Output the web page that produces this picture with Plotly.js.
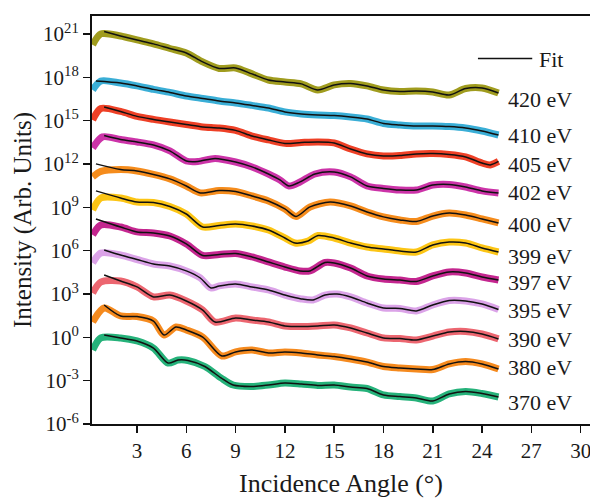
<!DOCTYPE html>
<html><head><meta charset="utf-8">
<script src="https://cdn.plot.ly/plotly-3.0.1.min.js"></script>
<style>html,body{margin:0;padding:0;background:#fff}</style>
</head><body><div id="chart" style="width:590px;height:498px"></div>
<script>
// Series labels (top to bottom)
const energies = ['420 eV','410 eV','405 eV','402 eV','400 eV','399 eV','397 eV','395 eV','390 eV','380 eV','370 eV'];

// Measured curves: incidence angle (deg) and log10 of intensity (arb. units)
const angle420 = [0.3,0.8,2,3,4,5,6,7,8,9,10,11,12,13,14,15,16,17,18,19,20,21,22,23,24,25];
const logI420  = [20.25,21.01,20.87,20.59,20.32,20.0,19.69,19.07,18.62,18.65,18.24,17.82,17.68,17.55,17.13,17.48,17.58,17.41,17.13,17.03,17.06,16.99,16.78,17.23,17.27,16.92];

const angle410 = [0.3,0.8,2,3,4,5,6,7,8,9,10,11,12,13,14,15,16,17,18,19,20,21,22,23,24,25];
const logI410  = [17.13,17.75,17.61,17.41,17.17,16.96,16.71,16.54,16.37,16.23,16.06,15.88,15.61,15.47,15.40,15.36,15.26,15.12,14.81,14.71,14.64,14.64,14.60,14.50,14.29,14.01];

const angle405 = [0.3,0.8,2,3,4,5,6,7,8,9,10,11,12,13,14,15,16,17,18,19,20,21,22,23,24,24.5,25];
const logI405  = [15.05,15.85,15.64,15.30,15.09,14.91,14.74,14.57,14.50,14.33,13.94,13.67,13.43,13.49,13.53,13.46,13.04,12.70,12.56,12.59,12.70,12.73,12.66,12.49,12.07,11.94,12.18];

const angle402 = [0.3,0.9,2,3,4,5,6,6.7,7.75,9,10,11,11.7,12.25,12.92,13.83,15,16,17,18,19,20,21,22,23,24,25];
const logI402  = [13.11,13.88,13.70,13.53,13.32,12.91,12.21,12.18,12.39,12.14,11.80,11.31,10.90,10.48,10.76,11.31,11.45,11.11,10.48,10.31,10.20,10.20,10.55,10.59,10.41,10.14,10.0];

const angle400 = [0.3,0.8,2,3,4,5,6,6.85,8,9,10,11,12,12.68,13.53,14.75,16,17,18,19,20,21,22,23,24,25];
const logI400  = [11.11,11.49,11.62,11.52,11.28,10.97,10.48,10.0,10.17,10.10,9.79,9.44,8.89,8.37,9.03,9.37,9.10,8.68,8.34,8.13,8.02,8.40,8.61,8.47,8.20,7.92];

const angle399 = [0.3,0.8,2,3,4,5,6,7,8,9,10,11,12,12.62,13.41,14.02,15,16,17,18,19,20,21,22,23,24,25];
const logI399  = [8.82,9.65,9.65,9.37,9.34,9.06,8.54,7.64,7.75,7.85,7.71,7.43,6.88,6.53,6.67,7.05,6.88,6.53,6.26,6.12,5.98,5.91,6.40,6.60,6.53,6.19,5.91];

const angle397 = [0.3,0.8,2,3,4,5,6,7,8,9,10,11,12,12.92,13.53,14.44,15,16,17,18,19,20,21,22,23,24,25];
const logI397  = [7.09,7.78,7.64,7.30,7.23,7.02,6.47,5.67,5.74,5.81,5.57,5.22,4.87,4.60,4.60,5.18,5.15,4.80,4.25,4.04,3.97,3.87,4.25,4.53,4.46,4.18,3.97];

const angle395 = [0.3,0.8,2,3,4,5,6,6.85,7.5,8,9,10,11,12,13,13.71,14.44,15.17,16,17,18,19,20,21,22,23,24,25];
const logI395  = [5.15,5.84,5.70,5.39,5.08,4.94,4.60,4.11,3.42,3.56,3.70,3.49,3.28,2.93,2.66,2.59,2.93,3.0,2.80,2.38,2.03,2.0,1.83,2.24,2.55,2.52,2.31,1.93];

const angle390 = [0.3,0.8,2,3,4,5,6,7,7.75,9,10,11,12,13,14,15,16,17,18,19,20,21,22,23,24,25];
const logI390  = [3.07,3.83,3.90,3.49,2.80,2.93,2.52,1.89,1.06,1.34,1.20,1.06,0.79,0.75,0.79,0.86,0.65,0.30,-0.04,-0.08,-0.18,0.09,0.37,0.41,0.23,-0.11];

const angle380 = [0.3,1.0,2,3,4,4.65,5.37,6,7,8.17,9,10,11,12,13,14,15,16,17,18,19,20,21,22,23,24,25];
const logI380  = [1.06,2.03,1.48,1.44,1.13,0.16,0.72,0.51,0.02,-1.29,-1.01,-0.88,-1.08,-1.01,-1.08,-1.22,-1.33,-1.50,-1.71,-2.02,-2.12,-2.19,-2.23,-1.84,-1.67,-1.84,-2.19];

const angle370 = [0.3,0.8,2,3,4,4.89,5.5,6.1,7.13,8.11,8.85,10,11,12,13,14,15,16,17,18,19,20,21,22,23,24,25];
const logI370  = [-0.88,-0.04,-0.04,-0.25,-0.74,-1.78,-1.57,-1.60,-2.02,-2.81,-3.30,-3.40,-3.30,-3.16,-3.23,-3.33,-3.30,-3.44,-3.54,-3.99,-4.10,-4.20,-4.41,-3.92,-3.75,-3.89,-4.13];

// Fit curves start at a slightly larger angle, then follow the data
const fitStartAngle = [1.0,0.5,1.0,1.0,0.5,0.5,0.5,1.0,1.0,1.0,1.0];
const fitStartLogI  = [21.17,17.75,15.95,13.97,12.01,10.14,8.20,6.05,4.32,2.24,0.16];

// y-axis tick values (decades) and x ticks
const yTickExp = [-6,-3,0,3,6,9,12,15,18,21];
const xTicks = [3,6,9,12,15,18,21,24,27,30];

const angles = [angle420,angle410,angle405,angle402,angle400,angle399,angle397,angle395,angle390,angle380,angle370];
const logIs  = [logI420,logI410,logI405,logI402,logI400,logI399,logI397,logI395,logI390,logI380,logI370];

// styling
const colors = ['#a09c1e','#3aaed6','#ee4026','#cc33a8','#f58c1c','#fcc515','#c4268f','#dba3e8','#ec6670','#f58a1e','#25b27a'];
const labelLogY = [16.44,14.01,11.94,10.0,7.78,5.57,3.83,1.83,-0.18,-2.12,-4.48];
const serif = 'Liberation Serif, Times New Roman, serif';

const traces = [];
energies.forEach((name, i) => {
  traces.push({
    x: angles[i], y: logIs[i].map(v => Math.pow(10, v)),
    mode: 'lines', line: {color: colors[i], width: 7, shape: 'spline', smoothing: 0.8},
    showlegend: false, hoverinfo: 'skip', name: name
  });
});
energies.forEach((name, i) => {
  const fx = [fitStartAngle[i]].concat(angles[i].slice(2));
  const fy = [fitStartLogI[i]].concat(logIs[i].slice(2)).map(v => Math.pow(10, v));
  traces.push({
    x: fx, y: fy, mode: 'lines',
    line: {color: '#111', width: 1.5, shape: 'spline', smoothing: 0.8},
    showlegend: false, hoverinfo: 'skip', name: 'Fit ' + name
  });
});

const annotations = energies.map((name, i) => ({
  x: 25.45, y: labelLogY[i], xref: 'x', yref: 'y', text: name, showarrow: false,
  xanchor: 'left', yanchor: 'middle', font: {family: serif, size: 22, color: '#1a1a1a'}
}));
annotations.push({
  x: 0.893, y: 0.893, xref: 'paper', yref: 'paper', text: 'Fit', showarrow: false,
  xanchor: 'left', yanchor: 'middle', font: {family: serif, size: 22, color: '#1a1a1a'}
});

const layout = {
  width: 590, height: 498,
  margin: {l: 92, r: 0, t: 16, b: 74},
  paper_bgcolor: '#fff', plot_bgcolor: '#fff',
  showlegend: false,
  xaxis: {
    range: [0.26, 30.57], tickmode: 'array', tickvals: xTicks,
    ticks: 'outside', ticklen: 7, tickwidth: 1.5, tickcolor: '#111',
    ticklabeloverflow: 'allow',
    showline: true, linewidth: 2, linecolor: '#111', mirror: true,
    showgrid: false, zeroline: false,
    tickfont: {family: serif, size: 21, color: '#1a1a1a'},
    title: {text: 'Incidence Angle (°)', font: {family: serif, size: 26, color: '#1a1a1a'}, standoff: 14}
  },
  yaxis: {
    type: 'log', range: [-6, 22.25], tickmode: 'array',
    tickvals: yTickExp.map(e => Math.pow(10, e)),
    ticktext: yTickExp.map(e => '10<sup>' + e + '</sup>'),
    ticks: 'outside', ticklen: 7, tickwidth: 1.5, tickcolor: '#111',
    showline: true, linewidth: 2, linecolor: '#111',
    showgrid: false, zeroline: false,
    tickfont: {family: serif, size: 21, color: '#1a1a1a'},
    title: {text: 'Intensity (Arb. Units)', font: {family: serif, size: 25, color: '#1a1a1a'}, standoff: 4}
  },
  shapes: [{type: 'line', xref: 'paper', yref: 'paper', x0: 0.775, x1: 0.884, y0: 0.896, y1: 0.896, line: {color: '#111', width: 1.5}}],
  annotations: annotations
};

Plotly.newPlot('chart', traces, layout, {staticPlot: true, displayModeBar: false});
</script>
</body></html>
